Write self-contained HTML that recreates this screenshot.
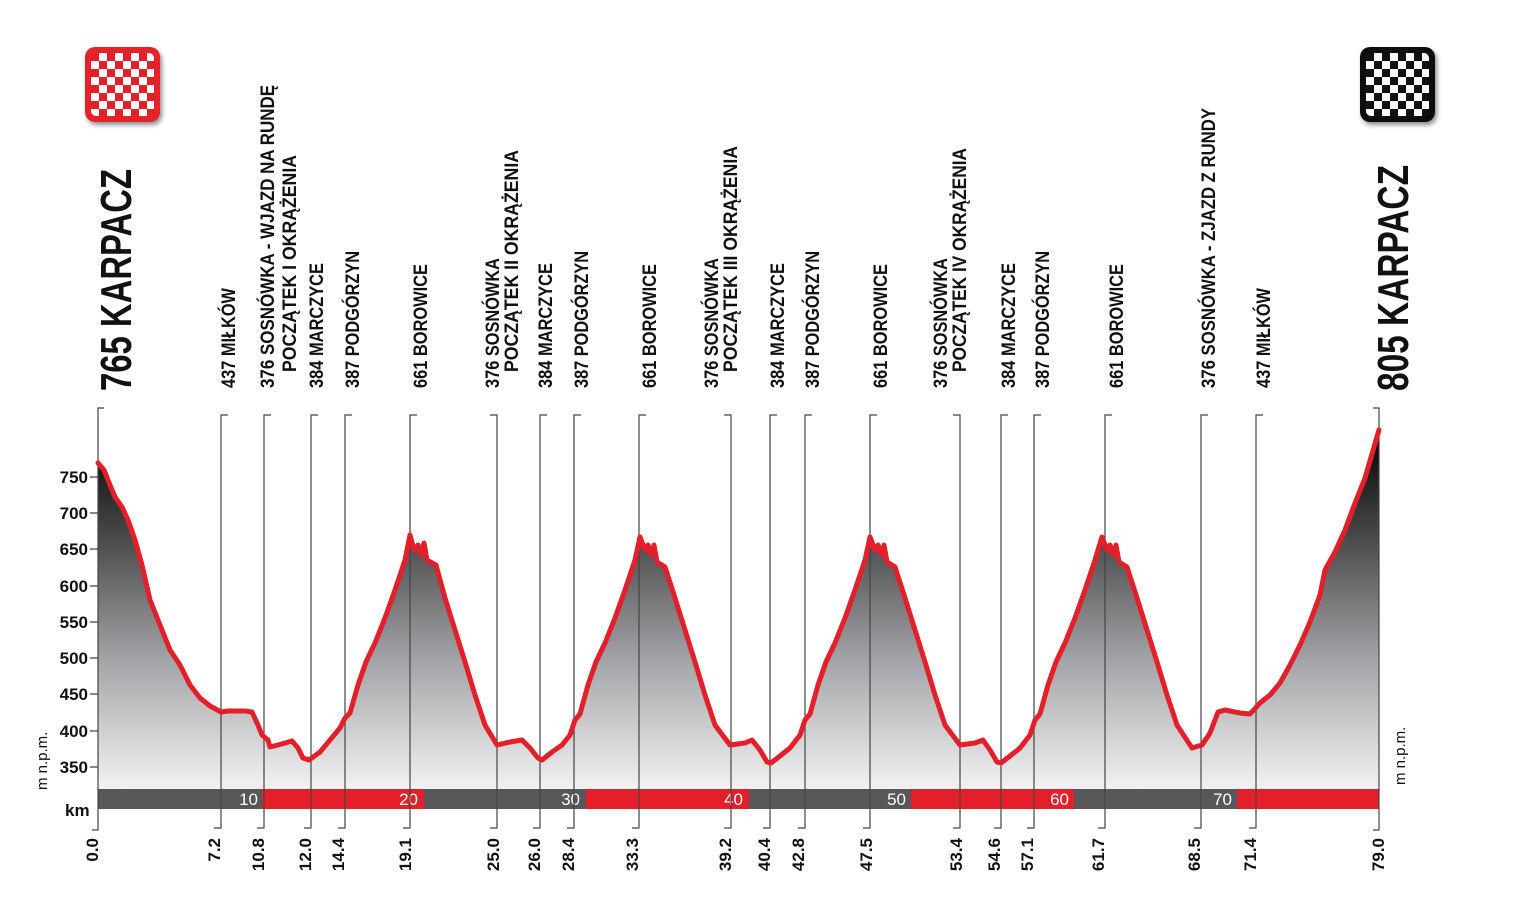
<!DOCTYPE html>
<html><head><meta charset="utf-8"><style>
html,body{margin:0;padding:0;background:#fff;width:1536px;height:902px;overflow:hidden}
svg{display:block}
text{font-family:"Liberation Sans Narrow","Liberation Sans",sans-serif;fill:#111}
.lb{font-size:19px;font-weight:bold}
.big{font-size:44px;font-weight:bold}
.ax{font-size:17px;font-weight:bold}
.km{font-size:17px;font-weight:bold}
</style></head><body>
<svg width="1536" height="902" viewBox="0 0 1536 902" xmlns="http://www.w3.org/2000/svg">
<defs>
<linearGradient id="g" x1="0" y1="430" x2="0" y2="789" gradientUnits="userSpaceOnUse">
<stop offset="0" stop-color="#000"/><stop offset="0.3" stop-color="#4a4a4c"/><stop offset="0.65" stop-color="#a5a6a9"/><stop offset="1" stop-color="#f2f2f3"/>
</linearGradient>
<pattern id="cr" x="91" y="53" width="16" height="16" patternUnits="userSpaceOnUse">
<rect width="16" height="16" fill="#fff"/><rect width="8" height="8" fill="#e3202a"/><rect x="8" y="8" width="8" height="8" fill="#e3202a"/></pattern>
<pattern id="cb" x="1366" y="53" width="16" height="16" patternUnits="userSpaceOnUse">
<rect width="16" height="16" fill="#fff"/><rect width="8" height="8" fill="#111"/><rect x="8" y="8" width="8" height="8" fill="#111"/></pattern>
<filter id="sh"><feDropShadow dx="2" dy="3" stdDeviation="2.5" flood-opacity="0.45"/></filter>
</defs>

<!-- flags -->
<rect x="85" y="47" width="75" height="75" rx="10" fill="#e3202a" filter="url(#sh)"/>
<rect x="91" y="53" width="63" height="63" rx="5" fill="url(#cr)"/>
<rect x="1360" y="47" width="75" height="75" rx="10" fill="#111" filter="url(#sh)"/>
<rect x="1366" y="53" width="63" height="63" rx="5" fill="url(#cb)"/>

<!-- big titles -->
<text class="big" transform="translate(131,391) rotate(-90)" textLength="222" lengthAdjust="spacingAndGlyphs">765 KARPACZ</text>
<text class="big" transform="translate(1408,391) rotate(-90)" textLength="226" lengthAdjust="spacingAndGlyphs">805 KARPACZ</text>

<!-- profile fill -->
<path id="prof" d="M98,463 L104,470 110,485 115,497 122,507 128,520 135,540 142,565 150,600 160,625 170,650 180,665 190,685 200,698 210,706 221,712 228,711 245,711 252,712 258,725 262,735 268,740 270,747 278,745 292,741 298,748 303,758 309,760 320,752 330,740 340,728 345,718 350,713 358,685 366,662 375,643 385,618 395,590 405,560 410,535 414,550 418,545 421,555 424,543 427,560 436,565 445,598 455,630 465,662 475,695 485,725 497,745 510,742 522,740 530,748 538,758 542,760 552,752 562,745 570,735 575,720 580,714 588,685 596,662 605,643 615,618 625,590 635,560 640,537 645,550 648,545 651,555 654,545 657,562 665,567 675,598 685,630 695,662 705,695 715,725 730,745 745,743 752,740 760,750 767,762 771,763 780,756 790,748 800,735 805,720 810,714 818,685 826,662 835,643 845,618 855,590 865,560 870,537 875,550 878,545 881,555 884,545 887,562 895,567 905,598 915,630 925,662 935,695 945,725 960,745 975,743 983,740 990,750 997,762 1001,763 1010,756 1020,748 1030,735 1035,720 1040,714 1048,685 1056,662 1065,643 1075,618 1085,590 1095,560 1102,537 1107,550 1110,545 1113,555 1116,545 1119,562 1127,567 1137,598 1147,630 1157,662 1167,695 1177,725 1192,748 1202,745 1210,733 1218,712 1225,710 1240,713 1250,714 1260,703 1270,695 1280,683 1290,665 1300,645 1310,622 1320,595 1325,570 1335,552 1345,530 1355,503 1365,478 1379,430" fill="none"/>
<path d="M98,463 L104,470 110,485 115,497 122,507 128,520 135,540 142,565 150,600 160,625 170,650 180,665 190,685 200,698 210,706 221,712 228,711 245,711 252,712 258,725 262,735 268,740 270,747 278,745 292,741 298,748 303,758 309,760 320,752 330,740 340,728 345,718 350,713 358,685 366,662 375,643 385,618 395,590 405,560 410,535 414,550 418,545 421,555 424,543 427,560 436,565 445,598 455,630 465,662 475,695 485,725 497,745 510,742 522,740 530,748 538,758 542,760 552,752 562,745 570,735 575,720 580,714 588,685 596,662 605,643 615,618 625,590 635,560 640,537 645,550 648,545 651,555 654,545 657,562 665,567 675,598 685,630 695,662 705,695 715,725 730,745 745,743 752,740 760,750 767,762 771,763 780,756 790,748 800,735 805,720 810,714 818,685 826,662 835,643 845,618 855,590 865,560 870,537 875,550 878,545 881,555 884,545 887,562 895,567 905,598 915,630 925,662 935,695 945,725 960,745 975,743 983,740 990,750 997,762 1001,763 1010,756 1020,748 1030,735 1035,720 1040,714 1048,685 1056,662 1065,643 1075,618 1085,590 1095,560 1102,537 1107,550 1110,545 1113,555 1116,545 1119,562 1127,567 1137,598 1147,630 1157,662 1167,695 1177,725 1192,748 1202,745 1210,733 1218,712 1225,710 1240,713 1250,714 1260,703 1270,695 1280,683 1290,665 1300,645 1310,622 1320,595 1325,570 1335,552 1345,530 1355,503 1365,478 1379,430 L1379,789 L98,789 Z" fill="url(#g)"/>

<!-- km bar -->
<rect x="98" y="789" width="1281" height="20" fill="#58585a"/>
<rect x="262" y="789" width="162" height="20" fill="#e3202a"/>
<rect x="586" y="789" width="163" height="20" fill="#e3202a"/>
<rect x="911" y="789" width="163" height="20" fill="#e3202a"/>
<rect x="1237" y="789" width="142" height="20" fill="#e3202a"/>
<g font-family="Liberation Sans Narrow, Liberation Sans, sans-serif" font-size="17" fill="#fff" text-anchor="end" style="fill:#fff">
<text x="258" y="805" style="fill:#fff">10</text><text x="418" y="805" style="fill:#fff">20</text>
<text x="580" y="805" style="fill:#fff">30</text><text x="743" y="805" style="fill:#fff">40</text>
<text x="906" y="805" style="fill:#fff">50</text><text x="1069" y="805" style="fill:#fff">60</text>
<text x="1232" y="805" style="fill:#fff">70</text></g>

<!-- marker lines -->
<g stroke="#444" stroke-width="1.2" fill="none">
<path d="M104,408 H98 V830 H92"/>
<path d="M1373,408 H1379 V830 H1373"/>
<path d="M228,415 H221 V828 H214 M271,415 H264 V828 H257 M318,415 H311 V828 H304 M352,415 H345 V828 H338 M417,415 H410 V828 H403 M490,415 H497 V828 H490 M547,415 H540 V828 H533 M581,415 H574 V828 H567 M646,415 H639 V828 H632 M724,415 H731 V828 H724 M777,415 H770 V828 H763 M812,415 H805 V828 H798 M877,415 H870 V828 H863 M953,415 H960 V828 H953 M1008,415 H1001 V828 H994 M1041,415 H1034 V828 H1027 M1112,415 H1105 V828 H1098 M1208,415 H1201 V828 H1194 M1263,415 H1256 V828 H1249"/>
<path d="M90,477 H98 M90,513 H98 M90,549 H98 M90,586 H98 M90,622 H98 M90,658 H98 M90,694 H98 M90,731 H98 M90,767 H98"/>
</g>

<!-- profile line -->
<use href="#prof" stroke="#e3202a" stroke-width="5" stroke-linejoin="round" stroke-linecap="round"/>

<!-- y axis -->
<g class="ax" text-anchor="end">
<text x="88" y="483">750</text><text x="88" y="519">700</text><text x="88" y="555">650</text>
<text x="88" y="592">600</text><text x="88" y="628">550</text><text x="88" y="664">500</text>
<text x="88" y="700">450</text><text x="88" y="737">400</text><text x="88" y="773">350</text>
</g>
<text font-size="15" transform="translate(47,790) rotate(-90)">m n.p.m.</text>
<text font-size="15" transform="translate(1405,785) rotate(-90)">m n.p.m.</text>
<text class="km" x="65" y="816">km</text>

<!-- bottom km labels -->
<g class="km" text-anchor="end">
<text transform="translate(98,838) rotate(-90)">0.0</text>
<text transform="translate(220,838) rotate(-90)">7.2</text>
<text transform="translate(264,838) rotate(-90)">10.8</text>
<text transform="translate(311,838) rotate(-90)">12.0</text>
<text transform="translate(344,838) rotate(-90)">14.4</text>
<text transform="translate(411,838) rotate(-90)">19.1</text>
<text transform="translate(499,838) rotate(-90)">25.0</text>
<text transform="translate(540,838) rotate(-90)">26.0</text>
<text transform="translate(574,838) rotate(-90)">28.4</text>
<text transform="translate(638,838) rotate(-90)">33.3</text>
<text transform="translate(731,838) rotate(-90)">39.2</text>
<text transform="translate(770,838) rotate(-90)">40.4</text>
<text transform="translate(804,838) rotate(-90)">42.8</text>
<text transform="translate(872,838) rotate(-90)">47.5</text>
<text transform="translate(962,838) rotate(-90)">53.4</text>
<text transform="translate(1000,838) rotate(-90)">54.6</text>
<text transform="translate(1033,838) rotate(-90)">57.1</text>
<text transform="translate(1104,838) rotate(-90)">61.7</text>
<text transform="translate(1200,838) rotate(-90)">68.5</text>
<text transform="translate(1256,838) rotate(-90)">71.4</text>
<text transform="translate(1384,838) rotate(-90)">79.0</text>
</g>

<!-- top labels -->
<g class="lb">
<text transform="translate(235,388) rotate(-90)" textLength="100" lengthAdjust="spacingAndGlyphs">437 MIŁKÓW</text>
<text transform="translate(274,388) rotate(-90)" textLength="303" lengthAdjust="spacingAndGlyphs">376 SOSNÓWKA - WJAZD NA RUNDĘ</text>
<text transform="translate(296,372) rotate(-90)" textLength="217" lengthAdjust="spacingAndGlyphs">POCZĄTEK I OKRĄŻENIA</text>
<text transform="translate(323,388) rotate(-90)" textLength="125" lengthAdjust="spacingAndGlyphs">384 MARCZYCE</text>
<text transform="translate(359,388) rotate(-90)" textLength="137" lengthAdjust="spacingAndGlyphs">387 PODGÓRZYN</text>
<text transform="translate(427,388) rotate(-90)" textLength="124" lengthAdjust="spacingAndGlyphs">661 BOROWICE</text>
<text transform="translate(499,388) rotate(-90)" textLength="130" lengthAdjust="spacingAndGlyphs">376 SOSNÓWKA</text>
<text transform="translate(518,372) rotate(-90)" textLength="222" lengthAdjust="spacingAndGlyphs">POCZĄTEK II OKRĄŻENIA</text>
<text transform="translate(552,388) rotate(-90)" textLength="125" lengthAdjust="spacingAndGlyphs">384 MARCZYCE</text>
<text transform="translate(588,388) rotate(-90)" textLength="137" lengthAdjust="spacingAndGlyphs">387 PODGÓRZYN</text>
<text transform="translate(656,388) rotate(-90)" textLength="124" lengthAdjust="spacingAndGlyphs">661 BOROWICE</text>
<text transform="translate(718,388) rotate(-90)" textLength="130" lengthAdjust="spacingAndGlyphs">376 SOSNÓWKA</text>
<text transform="translate(737,372) rotate(-90)" textLength="226" lengthAdjust="spacingAndGlyphs">POCZĄTEK III OKRĄŻENIA</text>
<text transform="translate(784,388) rotate(-90)" textLength="125" lengthAdjust="spacingAndGlyphs">384 MARCZYCE</text>
<text transform="translate(819,388) rotate(-90)" textLength="137" lengthAdjust="spacingAndGlyphs">387 PODGÓRZYN</text>
<text transform="translate(887,388) rotate(-90)" textLength="124" lengthAdjust="spacingAndGlyphs">661 BOROWICE</text>
<text transform="translate(947,388) rotate(-90)" textLength="130" lengthAdjust="spacingAndGlyphs">376 SOSNÓWKA</text>
<text transform="translate(966,372) rotate(-90)" textLength="224" lengthAdjust="spacingAndGlyphs">POCZĄTEK IV OKRĄŻENIA</text>
<text transform="translate(1015,388) rotate(-90)" textLength="125" lengthAdjust="spacingAndGlyphs">384 MARCZYCE</text>
<text transform="translate(1049,388) rotate(-90)" textLength="137" lengthAdjust="spacingAndGlyphs">387 PODGÓRZYN</text>
<text transform="translate(1123,388) rotate(-90)" textLength="124" lengthAdjust="spacingAndGlyphs">661 BOROWICE</text>
<text transform="translate(1215,388) rotate(-90)" textLength="280" lengthAdjust="spacingAndGlyphs">376 SOSNÓWKA - ZJAZD Z RUNDY</text>
<text transform="translate(1270,388) rotate(-90)" textLength="100" lengthAdjust="spacingAndGlyphs">437 MIŁKÓW</text>
</g>
</svg>
</body></html>
